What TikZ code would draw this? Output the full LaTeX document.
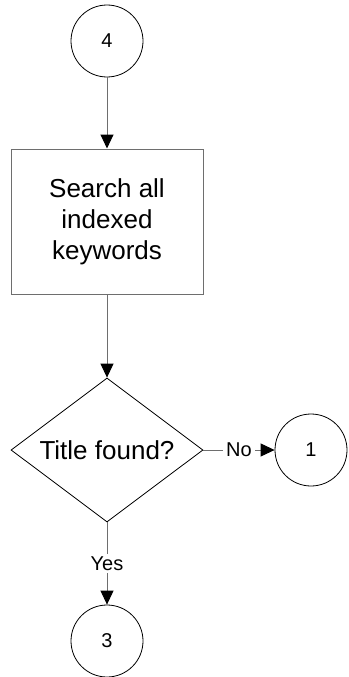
\documentclass[tikz,border=0pt]{standalone}
\usepackage{fontspec}
\setmainfont{Liberation Sans}
\usetikzlibrary{shapes.geometric,arrows.meta}
\definecolor{linegray}{RGB}{110,110,110}
\tikzset{
  conn/.style={circle,draw=black,line width=0.8pt,minimum size=72pt,inner sep=0pt,font=\fontsize{20}{24}\selectfont},
  procbox/.style={rectangle,draw=linegray,line width=1pt,minimum width=192pt,minimum height=145pt,align=center,font=\fontsize{26}{31}\selectfont},
  decide/.style={diamond,draw=black,line width=0.8pt,minimum width=192pt,minimum height=144pt,shape aspect=1.333,inner sep=0pt,font=\fontsize{26}{31}\selectfont},
  flow/.style={draw=linegray,line width=1pt,-{Triangle[width=13pt,length=14pt,fill=black,color=black]}},
  lbl/.style={fill=white,inner sep=3pt,font=\fontsize{20}{24}\selectfont}
}
\begin{document}
\begin{tikzpicture}[x=1pt,y=-1pt]
\useasboundingbox (0,0) rectangle (348,677);
\node[conn] (c4) at (107,41) {4};
\node[procbox] (search) at (107,221.5) {Search all\\indexed\\keywords};
\node[decide] (title) at (107,450) {Title found?};
\node[conn] (c1) at (311,450) {1};
\node[conn] (c3) at (107,641) {3};
\draw[flow] (c4) -- (search);
\draw[flow] (search) -- (title);
\draw[flow] (title.east) -- node[lbl] {No} (c1);
\draw[flow] (title.south) -- node[lbl] {Yes} (c3);
\end{tikzpicture}
\end{document}
